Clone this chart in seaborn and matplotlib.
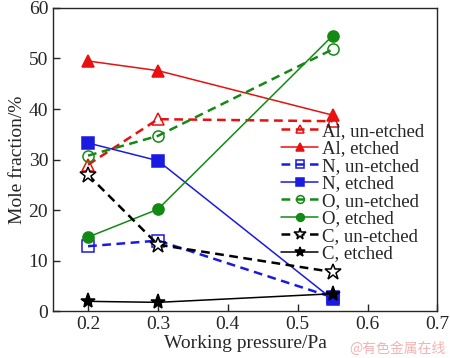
import matplotlib
matplotlib.use("Agg")
import matplotlib.pyplot as plt
import seaborn as sns

pressure = [0.2, 0.3, 0.55]

al_unetched = [29.0, 38.0, 37.6]
al_etched = [49.5, 47.6, 38.8]
n_unetched = [12.9, 14.0, 2.8]
n_etched = [33.3, 29.8, 2.4]
o_unetched = [30.8, 34.7, 51.8]
o_etched = [14.7, 20.2, 54.5]
c_unetched = [27.0, 13.2, 7.8]
c_etched = [2.0, 1.8, 3.5]

labels = ["Al, un-etched", "Al, etched", "N, un-etched", "N, etched",
          "O, un-etched", "O, etched", "C, un-etched", "C, etched"]

sns.set_style("ticks")
plt.rcParams["font.family"] = ["Liberation Serif", "DejaVu Serif"]

fig, ax = plt.subplots(figsize=(4.5, 3.58), dpi=100)

red, blue, green, black = "#e81010", "#1a1ae0", "#138a13", "#000000"
series = [
    (al_unetched, red, True, "^", "none", 9),
    (al_etched, red, False, "^", red, 9),
    (n_unetched, blue, True, "s", "none", 8),
    (n_etched, blue, False, "s", blue, 8),
    (o_unetched, green, True, "o", "none", 8),
    (o_etched, green, False, "o", green, 8),
    (c_unetched, black, True, "*", "white", 12),
    (c_etched, black, False, "*", black, 11),
]

for (vals, col, dashed, mk, fc, ms), lab in zip(series, labels):
    sns.lineplot(x=pressure, y=vals, ax=ax, color=col,
                 linewidth=1.8 if dashed else 1.1,
                 marker=mk, markersize=ms, markerfacecolor=fc, markeredgecolor=col,
                 markeredgewidth=1.1, label=lab)
    if dashed:
        ax.lines[-1].set_dashes((3.5, 2.2))

ax.set_xlim(0.15, 0.7)
ax.set_ylim(0, 60)
ax.set_xticks([0.2, 0.3, 0.4, 0.5, 0.6, 0.7])
ax.set_yticks([0, 10, 20, 30, 40, 50, 60])
ax.tick_params(direction="in", labelsize=14, length=5, width=1)
for s in ax.spines.values():
    s.set_linewidth(1)
ax.set_xlabel("Working pressure/Pa", fontsize=14, labelpad=1)
ax.set_ylabel("Mole fraction/%", fontsize=14, labelpad=2)

ax.legend(loc="lower right", bbox_to_anchor=(0.995, 0.125), fontsize=13.5,
          frameon=False, handlelength=2.0, handletextpad=0.2,
          labelspacing=0.02, borderaxespad=0.2, markerscale=0.7)

fig.text(0.99, 0.005, "@有色金属在线", color="#f2b3b3", fontsize=10, ha="right", va="bottom",
         family=["Noto Sans CJK SC", "DejaVu Sans"])

fig.subplots_adjust(left=0.118, right=0.972, top=0.978, bottom=0.13)
fig.savefig("out.png", dpi=100)
